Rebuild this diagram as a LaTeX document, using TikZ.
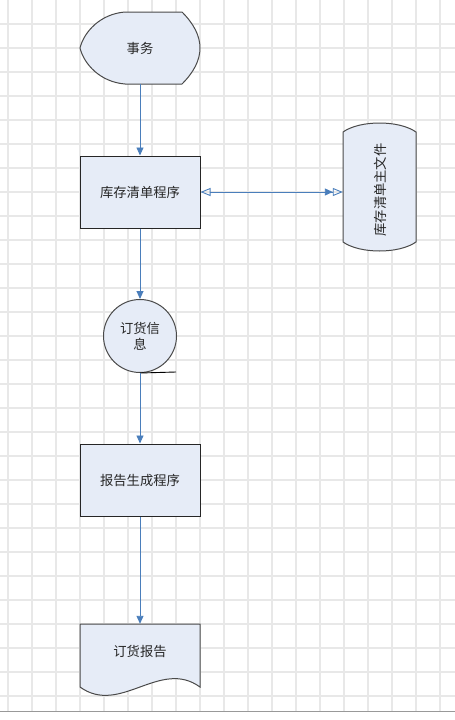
\documentclass[tikz,border=0pt]{standalone}
\usepackage{fontspec}
\newfontfamily\cjk{Noto Sans CJK SC}
\usetikzlibrary{arrows.meta}
\definecolor{shapefill}{HTML}{E6ECF7}
\definecolor{shapeline}{HTML}{4A4A4A}
\definecolor{connc}{HTML}{4A7EBB}
\definecolor{gridc}{HTML}{E8E8E8}
\begin{document}
\begin{tikzpicture}[x=1pt,y=-1pt,
  lbl/.style={font=\cjk\fontsize{13.3}{16}\selectfont, text=black!85, align=center, inner sep=0pt},
  outline/.style={draw=shapeline, fill=shapefill, line width=1pt},
  procbox/.style={lbl, outline, draw=black!85, minimum width=120pt, minimum height=72pt},
  conn/.style={draw=connc, line width=0.9pt},
  fillTip/.style={-{Triangle[length=8pt,width=7pt]}},
  gridline/.style={draw=gridc, line width=1.3pt}]
\useasboundingbox (0,0) rectangle (455,720);
% grid
\foreach \x in {8,32,...,440} \draw[gridline] (\x,0) -- (\x,711);
\foreach \y in {24,48,...,696} \draw[gridline] (0,\y) -- (455,\y);
\draw[draw=black!40, line width=0.8pt] (0,711) -- (455,711);
% display shape
\path[outline] (125,12) -- (182,12) .. controls (194,24) and (200,36) .. (200,48)
  .. controls (200,60) and (194,72) .. (182,84) -- (125,84)
  .. controls (100,82) and (84,64) .. (80,48)
  .. controls (84,32) and (100,14) .. (125,12) -- cycle;
\node[lbl, minimum width=120pt, minimum height=72pt] (t) at (140,48) {事务};
% process 1
\node[procbox] (p1) at (140,192) {库存清单程序};
% cylinder
\path[outline] (343,132) .. controls (360,120) and (399,120) .. (416,132) -- (416,242)
  .. controls (399,254) and (360,254) .. (343,242) -- cycle;
\node[inner sep=0pt, minimum width=73pt, minimum height=129pt] (f) at (379.5,187.5) {};
\node[lbl, rotate=90] (ft) at (380,190) {库存清单主文件};
% circle
\node[lbl, outline, circle, minimum size=73pt] (c) at (140,336) {订货信\\息};
\coordinate (ctail) at (176,372);
\draw[draw=black, line width=0.9pt] (c.south) -- (ctail);
% process 2
\node[procbox] (p2) at (140,480) {报告生成程序};
% document
\path[outline] (80,624) -- (200,624) -- (200,687)
  .. controls (160,658) and (120,716) .. (80,687) -- cycle;
\node[lbl, minimum width=120pt, minimum height=54pt] (d) at (140,651) {订货报告};
% connectors
\draw[conn, fillTip] (t.south) -- (p1.north);
\draw[conn, fillTip] (p1.south) -- (c.north);
\draw[conn, fillTip] (c.south) -- (p2.north);
\draw[conn, fillTip] (p2.south) -- (d.north);
\draw[conn, {Triangle[open,length=10pt,width=8pt]}-{Triangle[length=8pt,width=7pt] Triangle[open,length=10pt,width=8pt]}]
  (p1.east) -- (f.west |- p1.east);
\end{tikzpicture}
\end{document}
